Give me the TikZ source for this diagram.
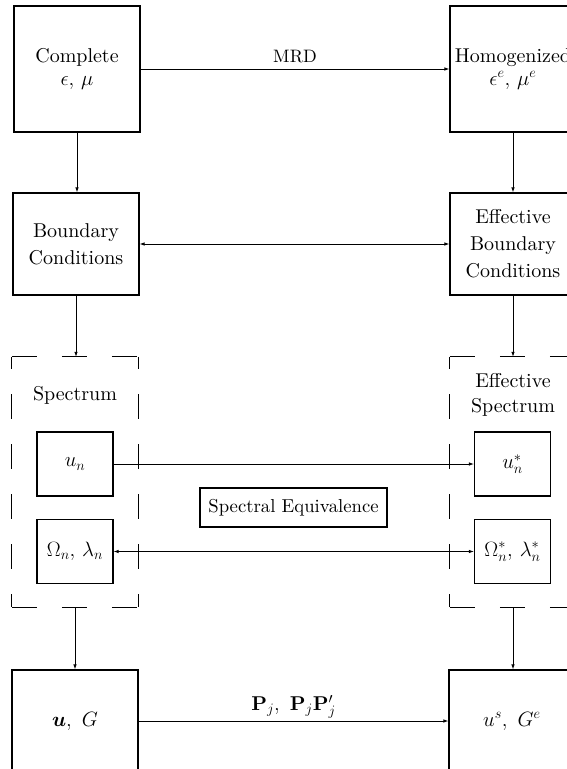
\documentclass[tikz,border=0pt]{standalone}
\usepackage{amsmath}
\usepackage{fontspec}
\setmainfont{lmroman10-regular.otf}[BoldFont=lmroman10-bold.otf, ItalicFont=lmroman10-italic.otf]
\DeclareMathSizes{20}{20}{15}{11}
\usetikzlibrary{arrows.meta}
\newcommand\dfont{\fontsize{20}{27}\selectfont}
\newcommand\sfont{\fontsize{18.7}{22}\selectfont}
\newcommand\mfont{\fontsize{18}{22}\selectfont}
\tikzset{
  boxbase/.style={draw, line width=1.1pt, inner sep=0pt, align=center, font=\dfont},
  bigbox/.style={boxbase, minimum width=126pt, minimum height=126pt},
  midbox/.style={boxbase, minimum width=126pt, minimum height=102pt},
  smallbox/.style={boxbase, minimum width=76pt, minimum height=64pt},
  dashframe/.style={inner sep=0pt, minimum width=126pt, minimum height=250pt},
  hside/.style={line width=1.1pt, dash pattern=on 25pt off 25pt},
  vside/.style={line width=1.1pt, dash pattern=on 25pt off 25pt, dash phase=12.5pt},
  arr/.style={line width=0.8pt, -{Latex[length=5pt,width=3.5pt]}},
  darr/.style={line width=0.8pt, {Latex[length=5pt,width=3.5pt]}-{Latex[length=5pt,width=3.5pt]}},
  lbl/.style={font=\dfont, inner sep=2pt}
}
\begin{document}
\begin{tikzpicture}[x=1pt,y=-1pt]
\useasboundingbox (0,0) rectangle (567,769);
\clip (0,0) rectangle (567,769);

% top row
\node[bigbox] (comp) at (77,69) {Complete\\[-4pt]$\epsilon,\,\mu$};
\node[bigbox] (homo) at (513,69) {Homogenized\\[-4pt]$\epsilon^e,\,\mu^e$};

% boundary conditions
\node[midbox] (bc) at (76,244) {Boundary\\Conditions};
\node[midbox] (ebc) at (513,244) {Effective\\Boundary\\Conditions};

% spectrum frames
\node[dashframe] (spec) at (75,482) {};
\node[dashframe] (espec) at (513,482) {};
\foreach \f in {spec,espec}{
  \draw[hside] (\f.north west) -- (\f.north east);
  \draw[hside] (\f.south west) -- (\f.south east);
  \draw[vside] (\f.north west) -- (\f.south west);
  \draw[vside] (\f.north east) -- (\f.south east);
}
\node[font=\dfont, anchor=base] (speclbl) at (75,400) {Spectrum};
\node[font=\fontsize{20}{25}\selectfont, align=center] (especlbl) at (513,394.5) {Effective\\Spectrum};

\node[smallbox] (un) at (75,464) {$u_n$};
\node[smallbox] (om) at (75,551.5) {$\Omega_n,\,\lambda_n$};
\node[smallbox] (uns) at (512.5,464) {$u_n^*$};
\node[smallbox] (oms) at (512.5,551.5) {$\Omega_n^*,\,\lambda_n^*$};

\node[boxbase, font=\sfont, minimum width=187pt, minimum height=39pt] (se) at (293.5,507.5) {Spectral Equivalence};

% bottom row
\node[midbox] (ug) at (75,721) {$\boldsymbol{u},\ G$};
\node[midbox] (usg) at (512,721) {$u^s,\ G^e$};

% connectors
\draw[arr] (comp.east) -- node[lbl, font=\mfont, above=4pt] (mrd) {MRD} (homo.west);
\draw[arr] (comp.south) -- (comp.south |- bc.north);
\draw[arr] (homo.south) -- (homo.south |- ebc.north);
\draw[darr] (bc.east) -- (ebc.west);
\draw[arr] (bc.south) -- (bc.south |- spec.north);
\draw[arr] (ebc.south) -- (ebc.south |- espec.north);
\draw[arr] (un.east) -- (uns.west);
\draw[darr] (om.east) -- (oms.west);
\draw[arr] (spec.south) -- (ug.north);
\draw[arr] (espec.south) -- (espec.south |- usg.north);
\draw[arr] (ug.east) -- node[lbl, above=0pt] (pj) {$\mathbf{P}_j,\ \mathbf{P}_j\mathbf{P}'_j$} (usg.west);
\end{tikzpicture}
\end{document}
